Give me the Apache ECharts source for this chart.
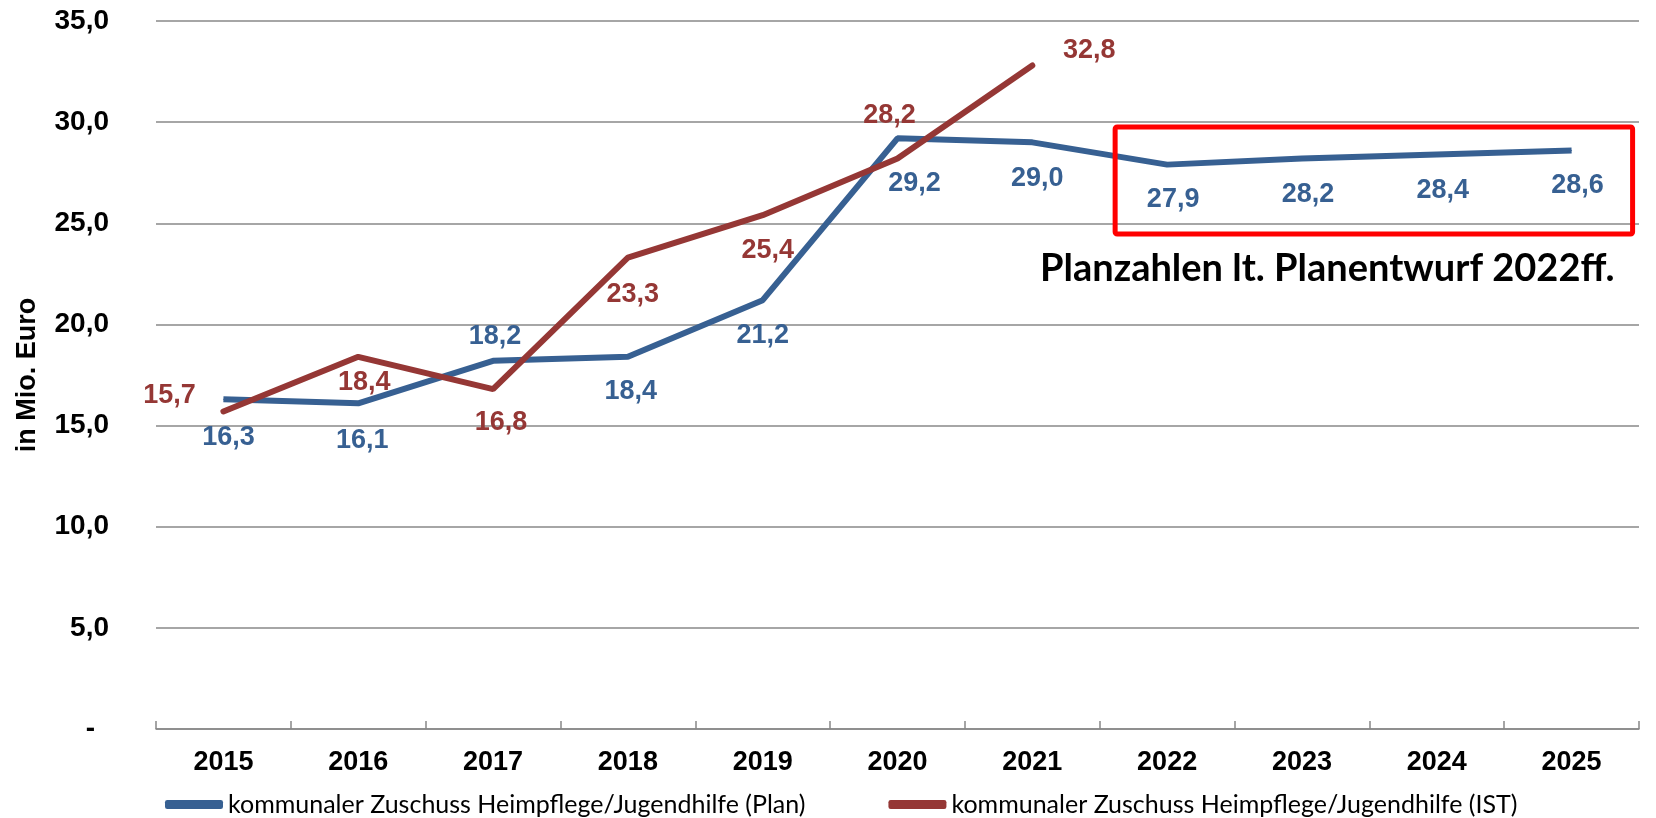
<!DOCTYPE html>
<html>
<head>
<meta charset="utf-8">
<script src="https://cdn.jsdelivr.net/npm/echarts@6/dist/echarts.min.js"></script>
<style>
html,body{margin:0;padding:0;background:#fff;}
#c{width:1656px;height:818px;}
</style>
</head>
<body>
<div id="c"></div>
<script>
// ---- data ----
const years = ['2015','2016','2017','2018','2019','2020','2021','2022','2023','2024','2025'];
const planValues = [16.3, 16.1, 18.2, 18.4, 21.2, 29.2, 29.0, 27.9, 28.2, 28.4, 28.6];
const istValues = [15.7, 18.4, 16.8, 23.3, 25.4, 28.2, 32.8, null, null, null, null];
const seriesNames = ['kommunaler Zuschuss Heimpflege/Jugendhilfe (Plan)', 'kommunaler Zuschuss Heimpflege/Jugendhilfe (IST)'];
const yTicks = [0, 5, 10, 15, 20, 25, 30, 35];
const noteText = 'Planzahlen lt. Planentwurf 2022ff.';

// ---- label placement (styling) ----
const planLabelOffsets = [[5,38],[4,37],[2,-24],[3,35],[0,35],[17,45],[5,36],[6,35],[6,36],[6,36],[6,35]];
const istLabelOffsets = [[-54,-16],[6,26],[8,33],[5,37],[5,35],[-8,-43],[57,-15]];

const BLUE = '#376092';
const RED = '#953735';
const numFont = "'Liberation Sans', Arial, sans-serif";

function fmt(v){ return v.toFixed(1).replace('.', ','); }

const chart = echarts.init(document.getElementById('c'), null, {renderer:'canvas'});

function mk(values, offsets){
  return values.map((v,i)=> v==null ? null : ({
    value: v,
    label: {offset: offsets[i] || [0,0]}
  }));
}

const labelBase = (color)=>({
  show: true,
  position: 'inside',
  color: color,
  fontFamily: numFont,
  fontWeight: 'bold',
  fontSize: 27,
  formatter: p => fmt(p.value)
});

chart.setOption({
  animation: false,
  backgroundColor: '#fff',
  grid: {left: 156, right: 17, top: 21, bottom: 89, containLabel: false},
  legend: {
    left: 160,
    top: 787,
    itemWidth: 58,
    itemHeight: 9,
    itemGap: 83,
    icon: 'roundRect',
    textStyle: {fontFamily: 'Lato, sans-serif', fontSize: 25, color: '#000'},
    data: seriesNames
  },
  xAxis: {
    type: 'category',
    data: years,
    boundaryGap: true,
    axisLine: {show: true, lineStyle: {color: '#888', width: 1.5}},
    axisTick: {show: true, inside: true, length: 8, lineStyle: {color: '#888', width: 1.5}},
    axisLabel: {color: '#000', fontFamily: numFont, fontWeight: 'bold', fontSize: 27, margin: 20},
    splitLine: {show: false}
  },
  yAxis: {
    type: 'value',
    min: yTicks[0],
    max: yTicks[yTicks.length-1],
    interval: 5,
    name: 'in Mio. Euro',
    nameLocation: 'middle',
    nameGap: 115,
    nameRotate: 90,
    nameTextStyle: {color: '#000', fontFamily: numFont, fontWeight: 'bold', fontSize: 27},
    axisLine: {show: false},
    axisTick: {show: false},
    splitLine: {show: true, lineStyle: {color: '#888', width: 1.5}},
    axisLabel: {
      color: '#000', fontFamily: numFont, fontWeight: 'bold', fontSize: 28, margin: 47,
      formatter: v => v === 0 ? '{d|-}' : fmt(v),
      rich: {d: {color:'#000', fontFamily: numFont, fontWeight:'bold', fontSize:28, padding:[0,14,0,0]}}
    }
  },
  series: [
    {
      name: seriesNames[0],
      type: 'line',
      data: mk(planValues, planLabelOffsets),
      symbol: 'circle',
      symbolSize: 1,
      showSymbol: true,
      lineStyle: {color: BLUE, width: 6},
      itemStyle: {color: BLUE},
      label: labelBase(BLUE),
      z: 3
    },
    {
      name: seriesNames[1],
      type: 'line',
      data: mk(istValues, istLabelOffsets),
      symbol: 'circle',
      symbolSize: 1,
      showSymbol: true,
      lineStyle: {color: RED, width: 6, cap: 'round'},
      itemStyle: {color: RED},
      label: labelBase(RED),
      z: 4
    }
  ]
});

// annotation box around planned years, positioned from the chart's own scales
function placeBox(){
  const i0 = years.indexOf('2022'), i1 = years.indexOf('2025');
  const xL = chart.convertToPixel({xAxisIndex:0}, years[i0]) - 52;
  const xR = chart.convertToPixel({xAxisIndex:0}, years[i1]) + 61;
  const yT = chart.convertToPixel({yAxisIndex:0}, 29.76);
  const yB = chart.convertToPixel({yAxisIndex:0}, 24.47);
  chart.setOption({
    graphic: [
      {
        type: 'rect', z: 10,
        shape: {x: xL, y: yT, width: xR - xL, height: yB - yT, r: 2},
        style: {fill: 'none', stroke: '#ff0000', lineWidth: 5}
      },
      {
        type: 'text', z: 10,
        x: xR - 18, y: yB + 35,
        style: {
          text: noteText, align: 'right', verticalAlign: 'middle',
          fontFamily: 'Lato, sans-serif', fontWeight: 'bold', fontSize: 38, fill: '#000'
        }
      }
    ]
  });
}
placeBox();
</script>
</body>
</html>
